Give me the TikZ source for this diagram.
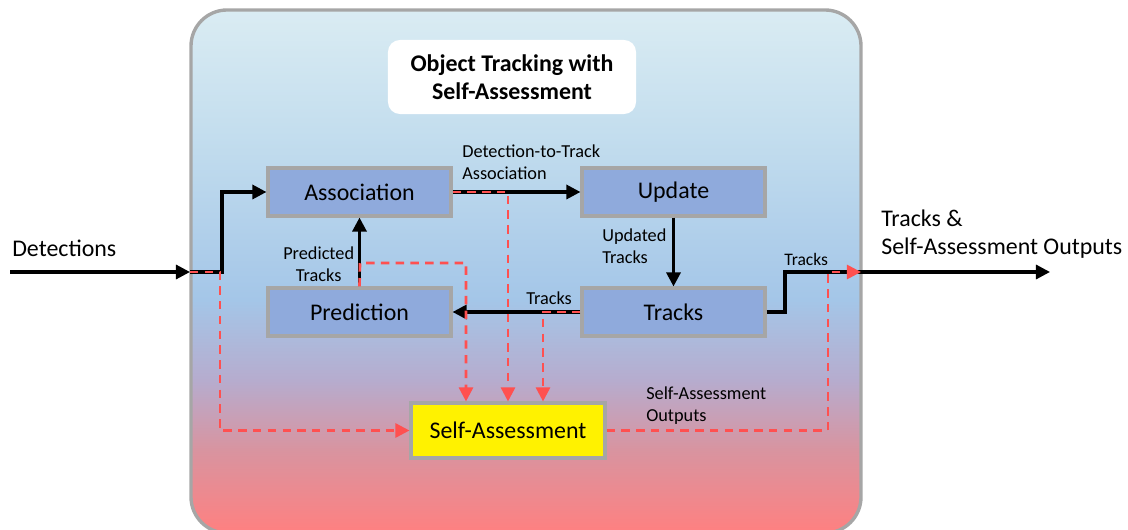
\documentclass[tikz,border=0pt]{standalone}
\usepackage{fontspec}
\setmainfont{Carlito}
\usetikzlibrary{arrows.meta}

\definecolor{boxblue}{RGB}{143,170,220}
\definecolor{boxgray}{RGB}{166,166,166}
\definecolor{dashred}{RGB}{255,80,80}
\definecolor{panelA}{RGB}{218,236,243}
\definecolor{panelB}{RGB}{196,222,238}
\definecolor{panelC}{RGB}{164,198,232}
\definecolor{panelD}{RGB}{182,172,206}
\definecolor{panelE}{RGB}{216,148,160}
\definecolor{panelF}{RGB}{255,128,128}
\pgfdeclareverticalshading{panel}{100bp}{color(0bp)=(panelF); color(25bp)=(panelF); color(33bp)=(panelE); color(39.6bp)=(panelD); color(47.3bp)=(panelC); color(63.5bp)=(panelB); color(75bp)=(panelA); color(100bp)=(panelA)}

\begin{document}
\begin{tikzpicture}[x=0.025cm, y=-0.025cm]
	\tikzstyle{block} = [rectangle, draw=boxgray, line width=2.2pt, fill=boxblue, minimum width=4.575cm, minimum height=1.2cm, font=\fontsize{17}{20}\selectfont]
	\tikzstyle{flow}  = [line width=2.2pt, -{Triangle[length=10pt,width=10pt]}]
	\tikzstyle{check} = [dashred, line width=1.9pt, dash pattern=on 6pt off 4.5pt, -{Triangle[length=10pt,width=10pt]}]
	\tikzstyle{note}  = [align=left, anchor=west, inner sep=0pt, font=\fontsize{13}{15.6}\selectfont]

	\useasboundingbox (0,0) rectangle (1128,530);
	\path[draw=boxgray, line width=2.4pt, rounded corners=0.9cm, shading=panel] (191,10) rectangle (861,533);

	\node[fill=white, rounded corners=0.3cm, minimum width=6.2cm, minimum height=1.85cm, align=center, font=\bfseries\fontsize{17}{20}\selectfont] (title) at (512,77) {Object Tracking with\\Self-Assessment};

	\foreach \name/\label/\x/\y in {assoc/Association/359.5/192, update/Update/673.5/192, pred/Prediction/359.5/312, tracks/Tracks/673.5/312}
		\node[block] (\name) at (\x,\y) {\label};
	\node[block, fill=yellow, minimum width=4.85cm, minimum height=1.375cm] (sa) at (508,430.5) {Self-Assessment};

	\coordinate (detin) at (10,272);
	\coordinate (inL) at (190,272);
	\coordinate (split) at (222,272);
	\coordinate (splitR) at (220,272);
	\coordinate (tapT) at (543,312);
	\coordinate (tapP) at (360,263);
	\coordinate (colP) at (466,0);
	\coordinate (bend) at (785,272);
	\coordinate (tapO) at (828,272);
	\coordinate (outR) at (861,272);
	\coordinate (outEnd) at (1050,272);

	% main flow
	\draw[flow] (detin) -- (inL);
	\draw[flow] (inL) -- (split) |- (assoc.west);
	\foreach \from/\to in {assoc/update, update/tracks, tracks/pred, pred/assoc}
		\draw[flow] (\from) -- (\to);
	\draw[flow] (tracks.east) -| (bend) -- (outEnd);

	% self-assessment taps
	\draw[check] (inL) -- (splitR) |- (sa.west);
	\draw[check] (assoc.east) -| (sa.north);
	\draw[check] (tracks.west) -| (tapT |- sa.north);
	\draw[check] (pred.north) -- (tapP) -| (colP |- sa.north);
	\draw[check] (sa.east) -| (tapO) -- (outR);

	\node[note, font=\fontsize{17}{20}\selectfont] (detlbl) at (12,248) {Detections};
	\node[note] (dtlbl) at (462,162) {Detection-to-Track\\Association};
	\node[note] (updlbl) at (602,246) {Updated\\Tracks};
	\node[note] (trklbl) at (526,298) {Tracks};
	\node[note, align=center] (predlbl) at (283,264) {Predicted\\Tracks};
	\node[note, font=\fontsize{12.5}{15}\selectfont] (outtrk) at (784,259) {Tracks};
	\node[note] (salbl) at (646,406) {Self-Assessment\\Outputs};
	\node[note, font=\fontsize{17}{20}\selectfont] (outlbl) at (881,234) {Tracks \&\\Self-Assessment Outputs};
\end{tikzpicture}
\end{document}
